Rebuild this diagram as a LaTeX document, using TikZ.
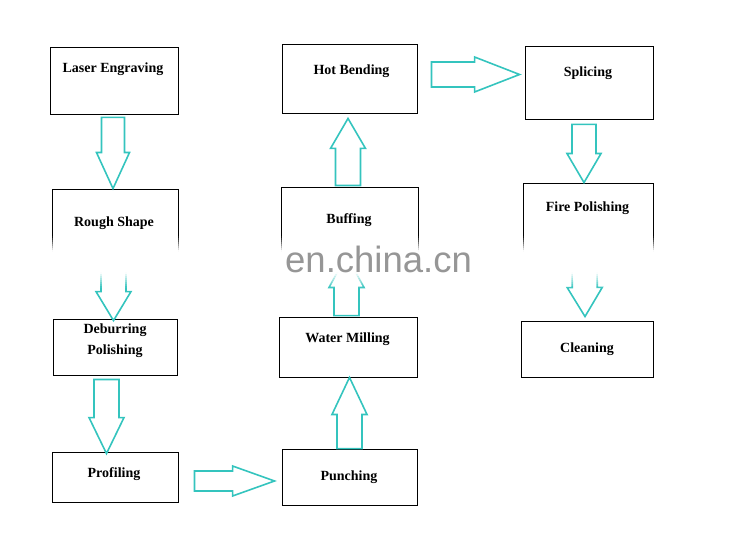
\documentclass[tikz,border=0pt]{standalone}
\usepackage{fontspec}
\setmainfont{Liberation Serif}
\newfontfamily\markfont{Liberation Sans}
\usepackage{tikz}
\usetikzlibrary{positioning}
\usetikzlibrary{calc}

\definecolor{flowc}{RGB}{52,196,190}
\definecolor{markc}{RGB}{150,150,150}

\tikzset{
  stage/.style={draw=black, line width=0.9pt, inner sep=0pt},
  stagetext/.style={font=\fontsize{14}{21}\selectfont\bfseries, inner sep=0pt, anchor=base, align=center},
  flow/.style 2 args={draw=flowc, line width=1.6pt, line join=miter,
    to path={let \p1=(\tikztostart), \p2=(\tikztotarget),
      \n1={atan2(\y2-\y1,\x2-\x1)}, \n2={veclen(\x2-\x1,\y2-\y1)} in
      [shift={(\p1)}, rotate=\n1]
      (0,#1) -- ({\n2-#2},#1) -- ({\n2-#2},#1+5) -- (\n2,0) -- ({\n2-#2},-#1-5) -- ({\n2-#2},-#1) -- (0,-#1) -- cycle}}
}

\begin{document}
\begin{tikzpicture}[x=1pt, y=-1pt]

\useasboundingbox (0,0) rectangle (754,545);

% first column
\node[stage, minimum width=128, minimum height=67] (laser) at (114,80.5) {};
\node[stage, minimum width=126, minimum height=63] (rough) at (115,220.5) {};
\node[stage, minimum width=124, minimum height=56] (deburr) at (115,347) {};
\node[stage, minimum width=126, minimum height=50] (profil) at (115,477) {};

\node[stagetext] (laserT) at (113,72.5) {Laser Engraving};
\node[stagetext] (roughT) at (114,226.5) {Rough Shape};
\node[stagetext, anchor=center] (deburrT) at (115,341) {Deburring\\Polishing};
\node[stagetext] (profilT) at (114,477.5) {Profiling};

% second column
\node[stage, minimum width=135, minimum height=69] (hotbend) at (349.5,78.5) {};
\node[stage, minimum width=137, minimum height=65] (buff) at (349.5,219.5) {};
\node[stage, minimum width=138, minimum height=60] (water) at (348,347) {};
\node[stage, minimum width=135, minimum height=56] (punch) at (349.5,477) {};

\node[stagetext] (hotbendT) at (351.5,75) {Hot Bending};
\node[stagetext] (buffT) at (349,223.5) {Buffing};
\node[stagetext] (waterT) at (347.5,342.5) {Water Milling};
\node[stagetext] (punchT) at (349,480.5) {Punching};

% third column
\node[stage, minimum width=128, minimum height=73] (splice) at (589,82.5) {};
\node[stage, minimum width=130, minimum height=69] (fire) at (588,217.5) {};
\node[stage, minimum width=132, minimum height=56] (clean) at (587,349) {};

\node[stagetext] (spliceT) at (588,76.5) {Splicing};
\node[stagetext] (fireT) at (587.5,212) {Fire Polishing};
\node[stagetext] (cleanT) at (587,352.5) {Cleaning};

% block arrows
\draw[flow={11.5}{36}] ([xshift=-1pt,yshift=-3pt]laser.south) to ([xshift=-2pt]rough.north);
\draw[flow={12.5}{29}] ([xshift=-1.5pt,yshift=-6pt]rough.south) to ([xshift=-1.5pt,yshift=-2pt]deburr.north);
\draw[flow={12.5}{36}] ([xshift=-8.5pt,yshift=-4pt]deburr.south) to ([xshift=-8.5pt,yshift=-2pt]profil.north);
\draw[flow={10}{42}] ([xshift=16pt,yshift=-4pt]profil.east) to ([xshift=-7pt,yshift=-4pt]punch.west);
\draw[flow={12.5}{37}] (punch.north) to ([xshift=1.5pt]water.south);
\draw[flow={12.5}{32}] ([xshift=-1.5pt,yshift=1pt]water.north) to ([xshift=-3pt,yshift=-3pt]buff.south);
\draw[flow={12.5}{30}] ([xshift=-1.5pt,yshift=1pt]buff.north) to ([xshift=-1.5pt,yshift=-5pt]hotbend.south);
\draw[flow={12.5}{45}] ([xshift=14pt,yshift=4pt]hotbend.east) to ([xshift=-5pt,yshift=8pt]splice.west);
\draw[flow={12}{29}] ([xshift=-5pt,yshift=-5pt]splice.south) to ([xshift=-4pt]fire.north);
\draw[flow={12.5}{29}] ([xshift=-3.5pt,yshift=-6pt]fire.south) to ([xshift=-2pt,yshift=4pt]clean.north);

% watermark band
\foreach \i in {0,...,25} {
  \pgfmathsetmacro{\op}{min(1,1.7*(1-abs(\i-12.5)/13))}
  \fill[white, fill opacity=\op] (0,236+2*\i) rectangle (754,238+2*\i);
}
\node[font=\markfont\fontsize{36.5}{40}\selectfont, text=markc, inner sep=0pt, anchor=base west] (mark) at (285,272) {en.china.cn};

\end{tikzpicture}
\end{document}
